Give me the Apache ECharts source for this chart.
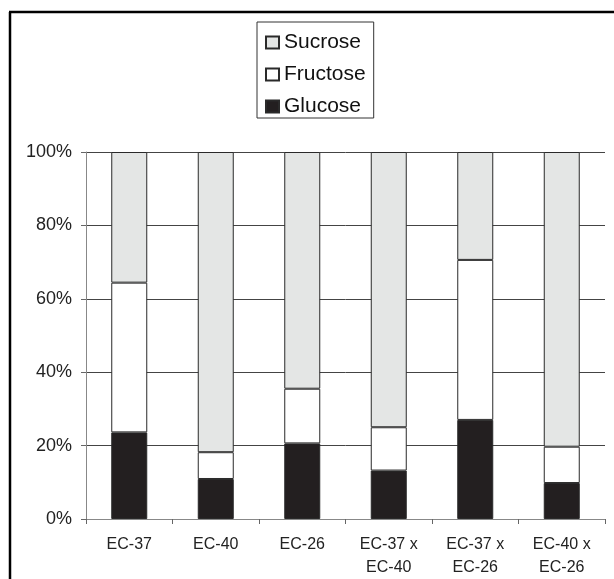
<!DOCTYPE html>
<html>
<head>
<meta charset="utf-8">
<script src="https://cdn.jsdelivr.net/npm/echarts@6/dist/echarts.min.js"></script>
<style>
html,body{margin:0;padding:0;background:#fff;}
#chart{width:614px;height:579px;}
</style>
</head>
<body>
<div id="chart"></div>
<script>
var categories = ['EC-37', 'EC-40', 'EC-26', 'EC-37 x\nEC-40', 'EC-37 x\nEC-26', 'EC-40 x\nEC-26'];
var glucose = [23.6, 10.9, 20.6, 13.2, 27.0, 9.8];
var fructose = [40.8, 7.3, 14.9, 11.8, 43.6, 9.9];
var sucrose = [35.6, 81.8, 64.5, 75.0, 29.4, 80.3];
var yTicks = [0, 20, 40, 60, 80, 100];

var chart = echarts.init(document.getElementById('chart'), null, {renderer: 'canvas'});
var font = 'Liberation Sans, Arial, sans-serif';
var border = {borderColor: '#2a2a2a', borderWidth: 1};
function series(name, data, color) {
  return {
    name: name, type: 'bar', stack: 'total', data: data, barWidth: 36,
    itemStyle: Object.assign({color: color}, border),
    emphasis: {disabled: true}
  };
}
chart.setOption({
  animation: false,
  backgroundColor: '#fff',
  grid: {left: 86, top: 152, right: 9, bottom: 60, containLabel: false},
  legend: {
    data: ['Sucrose', 'Fructose', 'Glucose'],
    orient: 'vertical',
    left: 257, top: 22,
    padding: [10, 8, 1, 8],
    itemGap: 11,
    itemWidth: 13, itemHeight: 12,
    icon: 'rect',
    borderColor: '#333', borderWidth: 1,
    textStyle: {fontFamily: font, fontSize: 21, color: '#111'},
    selectedMode: false
  },
  xAxis: {
    type: 'category', data: categories,
    axisLine: {lineStyle: {color: '#888', width: 1}},
    axisTick: {show: true, alignWithLabel: false, length: 5, lineStyle: {color: '#666'}},
    axisLabel: {fontFamily: font, fontSize: 16, color: '#222', margin: 14, lineHeight: 23, interval: 0}
  },
  yAxis: {
    type: 'value', min: yTicks[0], max: yTicks[yTicks.length - 1], interval: 20,
    axisLine: {show: true, lineStyle: {color: '#888'}},
    axisTick: {show: true, length: 5, lineStyle: {color: '#666'}},
    splitLine: {show: true, lineStyle: {color: '#444', width: 1}},
    axisLabel: {formatter: '{value}%', fontFamily: font, fontSize: 18, color: '#222', margin: 14}
  },
  series: [
    series('Glucose', glucose, '#231f20'),
    series('Fructose', fructose, '#ffffff'),
    series('Sucrose', sucrose, '#e4e6e5')
  ],
  graphic: [
    {type: 'line', shape: {x1: 10, y1: 12, x2: 10, y2: 579}, style: {stroke: '#000', lineWidth: 2.5}, silent: true},
    {type: 'line', shape: {x1: 9, y1: 12, x2: 614, y2: 12}, style: {stroke: '#000', lineWidth: 2.5}, silent: true}
  ]
});
</script>
</body>
</html>
